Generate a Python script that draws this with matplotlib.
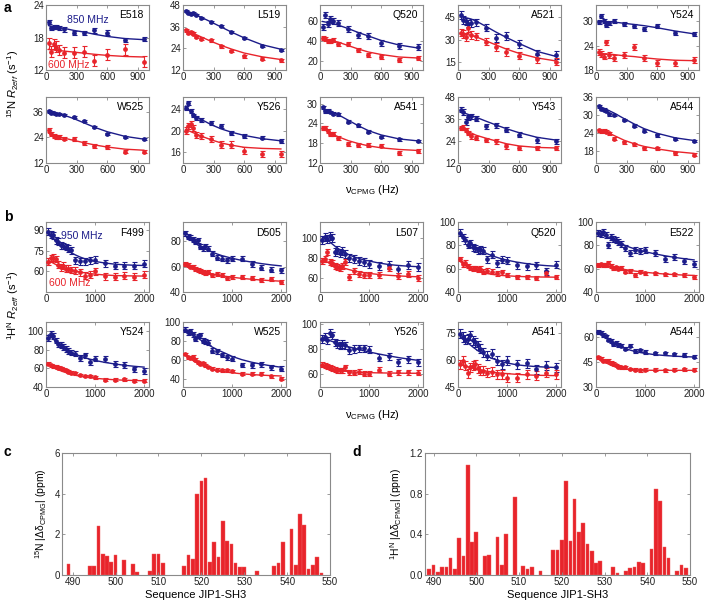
import matplotlib
matplotlib.use("Agg")
import matplotlib.pyplot as plt

plt.rcParams['font.family'] = ['Liberation Sans', 'DejaVu Sans']
plt.rcParams['mathtext.fontset'] = 'custom'
plt.rcParams['mathtext.rm'] = 'Liberation Sans'
plt.rcParams['mathtext.it'] = 'Liberation Sans:italic'
plt.rcParams['mathtext.bf'] = 'Liberation Sans:bold'

BLUE = '#1c1c8a'
RED = '#e8242b'
SPINE = '#8a8a8a'

# ---- panel a: 15N CPMG dispersions (850 / 600 MHz) ----
nu_N = [25, 50, 75, 100, 125, 175, 275, 375, 475, 600, 775, 960]

E518_hi = [20.9, 19.7, 20.0, 19.9, 19.7, 19.5, 18.8, 18.8, 19.3, 18.9, 17.5, 17.7]
E518_hi_fit = [20.2, 20.1, 20.0, 19.9, 19.8, 19.7, 19.3, 19.0, 18.6, 18.2, 17.8, 17.6]
E518_lo = [16.9, 15.4, 16.8, 16.3, 15.7, 15.2, 15.2, 15.4, 13.7, 14.8, 15.8, 13.5]
E518_lo_fit = [15.8, 15.7, 15.7, 15.6, 15.6, 15.5, 15.3, 15.1, 14.9, 14.7, 14.5, 14.4]

L519_hi = [44.5, 43.5, 43.0, 43.5, 42.5, 41.0, 38.5, 36.5, 33.0, 29.5, 25.2, 23.3]
L519_hi_fit = [44.8, 44.3, 43.8, 43.2, 42.6, 41.3, 38.6, 35.8, 33.0, 29.8, 26.0, 23.5]
L519_lo = [34.0, 32.7, 33.0, 32.0, 30.3, 29.4, 28.4, 25.1, 22.5, 19.7, 18.2, 17.3]
L519_lo_fit = [34.5, 33.8, 33.1, 32.4, 31.7, 30.4, 27.9, 25.6, 23.6, 21.4, 19.3, 17.8]

Q520N_hi = [54.0, 65.7, 56.7, 61.7, 60.0, 58.3, 51.7, 46.3, 44.7, 38.5, 34.7, 34.0]
Q520N_hi_fit = [59.5, 59.0, 58.5, 58.0, 57.5, 56.0, 52.5, 48.5, 45.0, 40.5, 36.0, 33.0]
Q520N_lo = [43.0, 42.0, 40.5, 40.0, 41.0, 37.3, 36.7, 30.7, 25.7, 24.0, 21.3, 23.3]
Q520N_lo_fit = [42.0, 41.5, 41.0, 40.5, 40.0, 39.0, 35.5, 32.0, 29.0, 26.5, 24.0, 23.0]

A521_hi = [46.5, 43.0, 42.2, 40.7, 41.0, 41.5, 38.0, 31.0, 32.5, 27.3, 20.5, 19.9]
A521_hi_fit = [45.5, 45.0, 44.6, 44.2, 43.8, 42.5, 38.8, 35.0, 31.5, 27.5, 22.3, 19.0]
A521_lo = [34.8, 33.7, 32.0, 37.9, 33.0, 32.2, 28.8, 25.2, 22.0, 19.5, 17.1, 15.6]
A521_lo_fit = [34.3, 34.0, 33.7, 33.3, 33.0, 32.0, 29.3, 26.5, 23.8, 21.0, 18.0, 16.0]

Y524N_hi = [29.8, 31.2, 30.0, 29.2, 29.5, 30.0, 29.4, 28.9, 28.1, 28.8, 27.1, 26.9]
Y524N_hi_fit = [30.0, 30.0, 30.0, 29.9, 29.9, 29.8, 29.5, 29.2, 28.9, 28.4, 27.6, 26.9]
Y524N_lo = [22.5, 22.0, 21.3, 24.8, 21.7, 21.0, 21.7, 23.6, 21.0, 19.8, 19.7, 20.5]
Y524N_lo_fit = [22.2, 22.1, 22.0, 22.0, 21.9, 21.8, 21.5, 21.3, 21.0, 20.7, 20.4, 20.3]

W525N_hi = [36.2, 35.7, 35.4, 35.2, 35.0, 34.6, 33.6, 31.7, 29.0, 25.8, 24.2, 23.3]
W525N_hi_fit = [36.0, 35.8, 35.6, 35.4, 35.1, 34.5, 32.8, 30.8, 28.8, 26.7, 24.5, 23.2]
W525N_lo = [27.5, 25.7, 24.5, 24.3, 24.4, 23.5, 23.3, 21.4, 20.0, 19.5, 17.4, 17.4]
W525N_lo_fit = [26.0, 25.5, 25.0, 24.6, 24.3, 23.7, 22.6, 21.5, 20.5, 19.5, 18.5, 18.0]

Y526N_hi = [24.2, 25.1, 23.6, 22.8, 22.3, 22.0, 21.4, 20.9, 19.6, 19.0, 18.7, 18.0]
Y526N_hi_fit = [24.5, 24.0, 23.5, 23.1, 22.7, 22.1, 21.1, 20.3, 19.7, 19.1, 18.5, 18.1]
Y526N_lo = [20.0, 20.8, 21.2, 20.5, 19.2, 19.0, 18.4, 17.4, 17.4, 16.3, 15.7, 15.7]
Y526N_lo_fit = [20.2, 20.0, 19.8, 19.6, 19.4, 19.0, 18.3, 17.7, 17.3, 16.9, 16.7, 16.6]

A541N_hi = [28.9, 27.7, 27.9, 27.5, 27.0, 26.7, 24.5, 23.4, 21.5, 19.9, 19.2, 18.7]
A541N_hi_fit = [28.5, 28.2, 28.0, 27.7, 27.4, 26.7, 25.0, 23.3, 21.8, 20.5, 19.3, 18.7]
A541N_lo = [22.7, 22.5, 21.7, 20.9, 20.7, 19.7, 17.7, 17.5, 17.6, 17.3, 15.0, 15.7]
A541N_lo_fit = [22.5, 22.0, 21.5, 21.1, 20.7, 20.0, 18.8, 17.9, 17.2, 16.6, 16.1, 15.8]

Y543_hi = [41.1, 39.8, 34.4, 36.9, 37.5, 36.2, 32.0, 32.5, 30.2, 27.5, 24.5, 23.8]
Y543_hi_fit = [40.0, 39.5, 39.0, 38.5, 38.0, 37.0, 34.8, 32.7, 30.7, 28.5, 26.0, 24.5]
Y543_lo = [31.0, 31.3, 30.0, 28.3, 26.5, 25.5, 24.7, 23.8, 21.1, 20.2, 20.2, 20.2]
Y543_lo_fit = [31.0, 30.5, 30.0, 29.3, 28.5, 27.2, 25.5, 24.0, 22.5, 21.3, 20.5, 20.2]

A544N_hi = [32.9, 32.1, 31.8, 31.3, 30.2, 30.0, 28.3, 26.5, 24.8, 23.2, 22.1, 21.4]
A544N_hi_fit = [33.0, 32.7, 32.3, 31.9, 31.5, 30.7, 28.8, 27.0, 25.4, 23.9, 22.4, 21.5]
A544N_lo = [24.9, 24.6, 24.8, 24.5, 24.0, 22.1, 20.9, 20.3, 19.0, 19.0, 17.3, 16.8]
A544N_lo_fit = [25.0, 24.8, 24.6, 24.3, 24.0, 23.2, 21.6, 20.4, 19.5, 18.7, 17.8, 17.2]

err_N_hi = [0.4, 0.6, 3.0, 2.5, 0.5, 0.5, 0.35, 0.4, 1.5, 0.4]
err_N_lo = [1.0, 0.8, 2.0, 2.5, 0.7, 0.9, 0.6, 0.6, 1.2, 0.5]

# ---- panel b: 1H CPMG dispersions (950 / 600 MHz) ----
nu_H = [50, 100, 150, 200, 250, 300, 350, 400, 450, 500,
        600, 700, 800, 900, 1000, 1200, 1400, 1600, 1800, 2000]

F499_hi = [88.8, 86.8, 86.3, 82.7, 81.5, 79, 78.5, 77.8, 76.5, 75.3, 68, 67.3, 67.3, 68, 68.5, 66, 64, 64, 64, 65.5]
F499_hi_fit = [88, 86, 84, 82, 80.5, 79, 77.5, 76.2, 75, 73.9, 72, 70.4, 69.1, 68.1, 67.3, 66.1, 65.3, 64.8, 64.5, 64.3]
F499_lo = [67, 69.5, 70, 69, 65, 63, 64, 62, 62, 61, 60.5, 59.5, 57, 57.5, 60, 56.5, 56, 57, 56, 57.5]
F499_lo_fit = [68, 67, 66, 65, 64.2, 63.5, 62.8, 62.2, 61.7, 61.2, 60.3, 59.5, 58.9, 58.4, 58, 57.4, 57, 56.8, 56.7, 56.6]

D505_hi = [86, 83.5, 82.5, 81.5, 79.5, 80.5, 75.5, 74.5, 76, 74, 70, 67, 66, 65, 66, 66, 62, 59, 57.5, 57]
D505_hi_fit = [84, 82.5, 81, 79.5, 78.3, 77, 76, 75, 74, 73, 71.3, 69.8, 68.5, 67.5, 66.5, 64.8, 63.5, 62.3, 61.3, 60.5]
D505_lo = [62, 61, 60, 59.5, 58, 57, 56.5, 56, 55, 55.5, 53, 54, 53.5, 51, 51.5, 52, 51, 49.5, 50, 48]
D505_lo_fit = [61.5, 60.5, 59.5, 58.7, 58, 57.3, 56.7, 56.1, 55.6, 55.1, 54.2, 53.4, 52.7, 52.1, 51.6, 50.7, 50, 49.4, 48.9, 48.5]

L507_hi = [98, 101, 99, 102, 100, 86, 88, 85, 87, 84, 80, 79, 77, 76, 74, 72, 73, 69, 73, 71]
L507_hi_fit = [101, 99.5, 98, 96, 94, 92, 90, 88.5, 87, 85.5, 83, 81, 79.5, 78, 77, 75, 73.5, 72.5, 71.8, 71.3]
L507_lo = [77, 79, 86, 76, 75, 72, 71, 70, 72, 76, 61, 67, 64, 63.5, 63, 63, 70, 62.5, 64, 60]
L507_lo_fit = [78, 77, 76, 75, 74, 73, 72, 71.2, 70.4, 69.7, 68.3, 67.1, 66.1, 65.3, 64.6, 63.5, 62.7, 62.1, 61.6, 61.2]

Q520H_hi = [91, 87, 84.5, 80.5, 82, 78.5, 77.5, 76, 76.5, 75.5, 68, 72, 64.5, 67.5, 67, 63, 62, 63, 58, 63.5]
Q520H_hi_fit = [90, 87.5, 85.2, 83, 81.2, 79.6, 78.2, 76.9, 75.7, 74.6, 72.7, 71, 69.6, 68.3, 67.3, 65.6, 64.3, 63.3, 62.6, 62.1]
Q520H_lo = [68.3, 63.7, 65.2, 62.2, 60.6, 60, 60.6, 59.1, 60, 57.5, 58.2, 57.5, 56, 56.9, 54.5, 52.9, 52.9, 52, 56, 52.9]
Q520H_lo_fit = [66, 64, 62.5, 61.2, 60.1, 59.2, 58.4, 57.7, 57.1, 56.6, 55.8, 55.1, 54.6, 54.2, 53.9, 53.4, 53.1, 52.9, 52.8, 52.7]

E522_hi = [90.8, 89.8, 91.4, 88.9, 80.6, 86.8, 85.2, 84.6, 82.8, 81.5, 77.5, 73.5, 76, 75.4, 76, 73.5, 68.3, 69.8, 66.8, 64.3]
E522_hi_fit = [90, 89.3, 88.5, 87.6, 86.6, 85.6, 84.6, 83.6, 82.6, 81.6, 79.8, 78.2, 76.8, 75.6, 74.5, 72.7, 71.1, 69.7, 68.5, 67.5]
E522_lo = [63.1, 63.7, 63.1, 63.1, 65.2, 62.2, 60.6, 61.2, 60, 60.6, 57.5, 58.2, 54.5, 57.5, 56, 56, 55.1, 55.1, 54.5, 52.9]
E522_lo_fit = [63.3, 63, 62.7, 62.3, 61.9, 61.5, 61.1, 60.7, 60.3, 59.9, 59.2, 58.5, 57.9, 57.4, 56.9, 56.1, 55.4, 54.9, 54.5, 54.2]

Y524H_hi = [93, 97, 95, 90, 86, 85, 83, 81, 79, 77, 76, 71, 74, 67, 70.5, 70, 64.5, 63.5, 59, 57]
Y524H_hi_fit = [96, 94, 91.5, 89, 86.5, 84.5, 82.5, 80.8, 79.2, 77.8, 75.3, 73.2, 71.4, 69.9, 68.6, 66.5, 64.8, 63.4, 62.3, 61.4]
Y524H_lo = [65.3, 63.5, 62.5, 61.8, 60.7, 60, 58.9, 58.2, 56.5, 55.4, 54.7, 53, 51.9, 51.9, 50.5, 47.7, 47.7, 48.4, 47, 46.7]
Y524H_lo_fit = [64, 62.5, 61, 59.8, 58.6, 57.5, 56.5, 55.6, 54.8, 54, 52.7, 51.6, 50.7, 50, 49.4, 48.5, 47.8, 47.3, 47, 46.7]

W525H_hi = [92, 89, 90, 87, 82, 85, 86, 80, 79, 78, 69.5, 69, 65, 62.5, 61, 54.5, 54, 55, 52, 50.5]
W525H_hi_fit = [91, 89.5, 88, 86.3, 84.6, 82.9, 81.2, 79.5, 77.9, 76.3, 73.3, 70.6, 68.2, 65.9, 63.5, 60, 57.3, 55.2, 53.4, 52]
W525H_lo = [66.1, 62.6, 61.9, 63.3, 59.8, 57.4, 55.7, 56.3, 53.9, 52.2, 50.4, 49.4, 48.7, 48.7, 48, 45.2, 45.2, 45.2, 42.4, 40]
W525H_lo_fit = [65, 63, 61, 59.2, 57.5, 56, 54.7, 53.5, 52.4, 51.5, 49.9, 48.6, 47.6, 46.8, 46.1, 45, 44.2, 43.6, 43.1, 42.7]

Y526H_hi = [88, 90, 87, 93, 91, 85.5, 84, 83, 84, 83, 79, 80, 80.5, 80.5, 79.5, 73, 74, 69, 71.5, 69]
Y526H_hi_fit = [89, 88.3, 87.5, 86.8, 86.1, 85.4, 84.7, 84, 83.4, 82.8, 81.6, 80.5, 79.5, 78.5, 77.6, 75.9, 74.4, 73, 71.8, 70.7]
Y526H_lo = [67, 66.5, 66, 65, 64, 63, 62.5, 62.5, 62.5, 65, 61, 60.5, 61.5, 60, 60, 63, 60, 61, 61, 60.5]
Y526H_lo_fit = [66.5, 65.7, 65, 64.3, 63.8, 63.3, 62.9, 62.5, 62.2, 61.9, 61.5, 61.2, 61, 60.8, 60.7, 60.5, 60.4, 60.3, 60.2, 60.2]

A541H_hi = [74.6, 72.7, 71.2, 71.8, 73.7, 70.9, 69.9, 68.1, 66.2, 64.3, 62.4, 63.4, 59.6, 57.7, 59.6, 57.7, 58.1, 54.9, 56.8, 55.9]
A541H_hi_fit = [72.5, 71.5, 70.5, 69.4, 68.3, 67.2, 66.2, 65.2, 64.3, 63.5, 62, 60.8, 59.8, 59, 58.3, 57.3, 56.7, 56.3, 56, 55.8]
A541H_lo = [57.5, 59.5, 56.8, 52.5, 56, 56.8, 57.5, 55.5, 54, 54, 53, 53.5, 52, 52, 50.2, 50, 52, 51.2, 53, 52]
A541H_lo_fit = [57.5, 57, 56.6, 56.2, 55.8, 55.4, 55.1, 54.8, 54.5, 54.2, 53.7, 53.3, 52.9, 52.6, 52.4, 52, 51.7, 51.5, 51.4, 51.3]

A544H_hi = [63.1, 62.6, 61.3, 60.4, 58.5, 57.6, 55.7, 56.7, 55.2, 54.8, 53, 54.8, 51.7, 52, 51.1, 50.2, 50.2, 49.6, 49.3, 48.3]
A544H_hi_fit = [63.5, 62.3, 61.1, 59.9, 58.8, 57.8, 56.8, 55.9, 55.1, 54.4, 53.1, 52.1, 51.3, 50.7, 50.2, 49.4, 48.9, 48.5, 48.2, 48]
A544H_lo = [47.8, 47, 45.9, 45.6, 45.9, 44.6, 44.1, 43.3, 42.2, 41.9, 41.9, 40.9, 40.4, 40, 40.4, 40.4, 40, 40.4, 40.6, 40.4]
A544H_lo_fit = [48, 46.8, 45.7, 44.7, 43.8, 43.1, 42.5, 42, 41.6, 41.3, 40.8, 40.5, 40.3, 40.2, 40.1, 40, 40, 40, 40, 40]

err_H_hi = [2.5, 2.0, 4.0, 3.0, 2.5, 3.0, 2.5, 3.0, 2.5, 1.0]
err_H_lo = [2.5, 1.5, 3.0, 2.0, 1.5, 1.5, 1.5, 2.0, 2.5, 0.8]

# ---- panels c, d: |delta-omega| per residue ----
res_c = [489, 494, 495, 496, 497, 498, 499, 500, 502, 504, 505, 508, 509, 510, 511,
         516, 517, 518, 519, 520, 521, 522, 523, 524, 525, 526, 527, 528, 529, 530,
         533, 537, 538, 539, 541, 542, 543, 544, 545, 546, 547, 548]
dw_N = [0.54, 0.44, 0.46, 2.42, 1.04, 0.95, 0.64, 1.0, 0.74, 0.54, 0.16, 0.18, 1.04, 1.04, 0.61,
        0.44, 0.97, 0.8, 3.98, 4.6, 4.79, 0.62, 1.61, 0.87, 2.66, 1.68, 1.53, 0.61, 0.38, 0.38,
        0.21, 0.44, 0.61, 1.63, 2.25, 0.48, 2.99, 2.47, 0.3, 0.51, 0.9, 0.11]

res_d = [489, 490, 491, 492, 493, 494, 495, 496, 497, 498, 499, 500, 502, 503, 505, 506, 507,
         509, 511, 512, 513, 515, 518, 519, 520, 521, 522, 523, 524, 525, 526, 527, 528, 529,
         532, 533, 535, 536, 537, 538, 539, 541, 542, 543, 544, 545, 547, 548, 549]
dw_H = [0.056, 0.098, 0.033, 0.075, 0.082, 0.17, 0.062, 0.36, 0.187, 1.08, 0.32, 0.426, 0.19, 0.2,
        0.37, 0.098, 0.4, 0.77, 0.092, 0.056, 0.075, 0.043, 0.25, 0.246, 0.34, 0.925, 0.33, 0.745,
        0.42, 0.515, 0.305, 0.233, 0.115, 0.138, 0.082, 0.023, 0.043, 0.066, 0.082, 0.125, 0.121,
        0.252, 0.843, 0.728, 0.272, 0.17, 0.039, 0.098, 0.066]

panels_a = [
    ("E518", E518_hi, E518_hi_fit, E518_lo, E518_lo_fit, (12, 24), [12, 18, 24]),
    ("L519", L519_hi, L519_hi_fit, L519_lo, L519_lo_fit, (12, 48), [12, 24, 36, 48]),
    ("Q520", Q520N_hi, Q520N_hi_fit, Q520N_lo, Q520N_lo_fit, (11, 76), [20, 40, 60]),
    ("A521", A521_hi, A521_hi_fit, A521_lo, A521_lo_fit, (10, 53), [15, 30, 45]),
    ("Y524", Y524N_hi, Y524N_hi_fit, Y524N_lo, Y524N_lo_fit, (18, 34), [18, 24, 30]),
    ("W525", W525N_hi, W525N_hi_fit, W525N_lo, W525N_lo_fit, (12, 43), [12, 24, 36]),
    ("Y526", Y526N_hi, Y526N_hi_fit, Y526N_lo, Y526N_lo_fit, (14, 26.2), [16, 20, 24]),
    ("A541", A541N_hi, A541N_hi_fit, A541N_lo, A541N_lo_fit, (12, 32), [12, 18, 24, 30]),
    ("Y543", Y543_hi, Y543_hi_fit, Y543_lo, Y543_lo_fit, (12, 48), [12, 24, 36, 48]),
    ("A544", A544N_hi, A544N_hi_fit, A544N_lo, A544N_lo_fit, (14, 36), [18, 24, 30, 36]),
]
panels_b = [
    ("F499", F499_hi, F499_hi_fit, F499_lo, F499_lo_fit, (45, 96), [60, 75, 90]),
    ("D505", D505_hi, D505_hi_fit, D505_lo, D505_lo_fit, (40, 95), [40, 60, 80]),
    ("L507", L507_hi, L507_hi_fit, L507_lo, L507_lo_fit, (46, 116), [60, 80, 100]),
    ("Q520", Q520H_hi, Q520H_hi_fit, Q520H_lo, Q520H_lo_fit, (40, 100), [40, 60, 80, 100]),
    ("E522", E522_hi, E522_hi_fit, E522_lo, E522_lo_fit, (40, 100), [40, 60, 80, 100]),
    ("Y524", Y524H_hi, Y524H_hi_fit, Y524H_lo, Y524H_lo_fit, (40, 110), [40, 60, 80, 100]),
    ("W525", W525H_hi, W525H_hi_fit, W525H_lo, W525H_lo_fit, (31, 100), [40, 60, 80, 100]),
    ("Y526", Y526H_hi, Y526H_hi_fit, Y526H_lo, Y526H_lo_fit, (49, 102), [60, 80, 100]),
    ("A541", A541H_hi, A541H_hi_fit, A541H_lo, A541H_lo_fit, (45, 81), [45, 60, 75]),
    ("A544", A544H_hi, A544H_hi_fit, A544H_lo, A544H_lo_fit, (30, 69), [30, 45, 60]),
]

W, H = 707, 604
fig = plt.figure(figsize=(W / 100, H / 100), dpi=100)

col_left = [46, 183, 320, 458, 596]
col_w = 103
rows_a = [(5, 70), (97, 163)]
rows_b = [(222, 292), (322, 387)]


def style(ax, size=7):
    for s in ax.spines.values():
        s.set_color(SPINE)
        s.set_linewidth(0.8)
    ax.tick_params(direction='in', top=True, right=True, length=2.2, width=0.6,
                   color=SPINE, labelsize=size, labelcolor='#222222', pad=1.5)


def add_ax(left, top, bottom, width):
    return fig.add_axes([left / W, 1 - bottom / H, width / W, (bottom - top) / H])


def cpmg(ax, nu, hi, hi_fit, e_hi, lo, lo_fit, e_lo, name, ylim, yticks, xlim, xticks):
    for y, yf, e, c in ((hi, hi_fit, e_hi, BLUE), (lo, lo_fit, e_lo, RED)):
        ax.plot(nu, yf, color=c, lw=1.0, zorder=2)
        ax.errorbar(nu, y, yerr=e, fmt='o', ms=2.4, color=c, ecolor=c, elinewidth=0.8,
                    capsize=1.8, capthick=0.8, zorder=3)
    ax.set_xlim(*xlim)
    ax.set_ylim(*ylim)
    ax.set_xticks(xticks)
    ax.set_yticks(yticks)
    ax.text(0.95, 0.85, name, transform=ax.transAxes, ha='right', va='center', fontsize=7.5)
    style(ax)


axes_a = []
for i, p in enumerate(panels_a):
    r, c = divmod(i, 5)
    ax = add_ax(col_left[c], rows_a[r][0], rows_a[r][1], col_w)
    cpmg(ax, nu_N, p[1], p[2], err_N_hi[i], p[3], p[4], err_N_lo[i], p[0], p[5], p[6],
         (0, 1010), [0, 300, 600, 900])
    axes_a.append(ax)

axes_b = []
for i, p in enumerate(panels_b):
    r, c = divmod(i, 5)
    ax = add_ax(col_left[c], rows_b[r][0], rows_b[r][1], col_w)
    cpmg(ax, nu_H, p[1], p[2], err_H_hi[i], p[3], p[4], err_H_lo[i], p[0], p[5], p[6],
         (0, 2100), [0, 1000, 2000])
    axes_b.append(ax)

axes_a[0].text(210, 21.3, '850 MHz', color=BLUE, fontsize=7.5, va='center')
axes_a[0].text(15, 12.9, '600 MHz', color=RED, fontsize=7.5, va='center')
axes_b[0].text(300, 85.8, '950 MHz', color=BLUE, fontsize=7.5, va='center')
axes_b[0].text(60, 51.5, '600 MHz', color=RED, fontsize=7.5, va='center')

fig.text(13 / W, 1 - 84 / H, r'$^{15}$N $R_{2eff}$ (s$^{-1}$)', rotation=90,
         ha='center', va='center', fontsize=8)
fig.text(13 / W, 1 - 305 / H, r'$^{1}$H$^{\mathrm{N}}$ $R_{2eff}$ (s$^{-1}$)', rotation=90,
         ha='center', va='center', fontsize=8)
fig.text(372 / W, 1 - 190 / H, r'ν$_{\mathrm{CPMG}}$ (Hz)', ha='center', va='center', fontsize=8)
fig.text(372 / W, 1 - 415 / H, r'ν$_{\mathrm{CPMG}}$ (Hz)', ha='center', va='center', fontsize=8)

# bar panels
ax_c = add_ax(62, 453, 575, 268)
ax_c.bar(res_c, dw_N, width=0.85, color=RED, edgecolor='#f06060', linewidth=0.3)
ax_c.set_xlim(487.5, 550)
ax_c.set_ylim(0, 6)
ax_c.set_xticks([490, 500, 510, 520, 530, 540, 550])
ax_c.set_yticks([0, 2, 4, 6])
ax_c.set_xlabel('Sequence JIP1-SH3', fontsize=8, labelpad=2)
ax_c.set_ylabel(r'$^{15}$N |Δδ$_{\mathrm{CPMG}}$| (ppm)', fontsize=7.5, labelpad=4)
style(ax_c)

ax_d = add_ax(425, 453, 575, 265)
ax_d.bar(res_d, dw_H, width=0.85, color=RED, edgecolor='#f06060', linewidth=0.3)
ax_d.set_xlim(488, 550)
ax_d.set_ylim(0, 1.2)
ax_d.set_xticks([490, 500, 510, 520, 530, 540, 550])
ax_d.set_yticks([0, 0.4, 0.8, 1.2])
ax_d.set_yticklabels(['0.0', '0.4', '0.8', '1.2'])
ax_d.set_xlabel('Sequence JIP1-SH3', fontsize=8, labelpad=2)
ax_d.set_ylabel(r'$^{1}$H$^{\mathrm{N}}$ |Δδ$_{\mathrm{CPMG}}$| (ppm)', fontsize=7.5, labelpad=4)
style(ax_d)

for lab, x, y in (('a', 4, 8), ('b', 4, 217), ('c', 4, 452), ('d', 352, 452)):
    fig.text(x / W, 1 - y / H, lab, fontweight='bold', fontsize=10, ha='left', va='center')

fig.savefig('out.png', dpi=100)
